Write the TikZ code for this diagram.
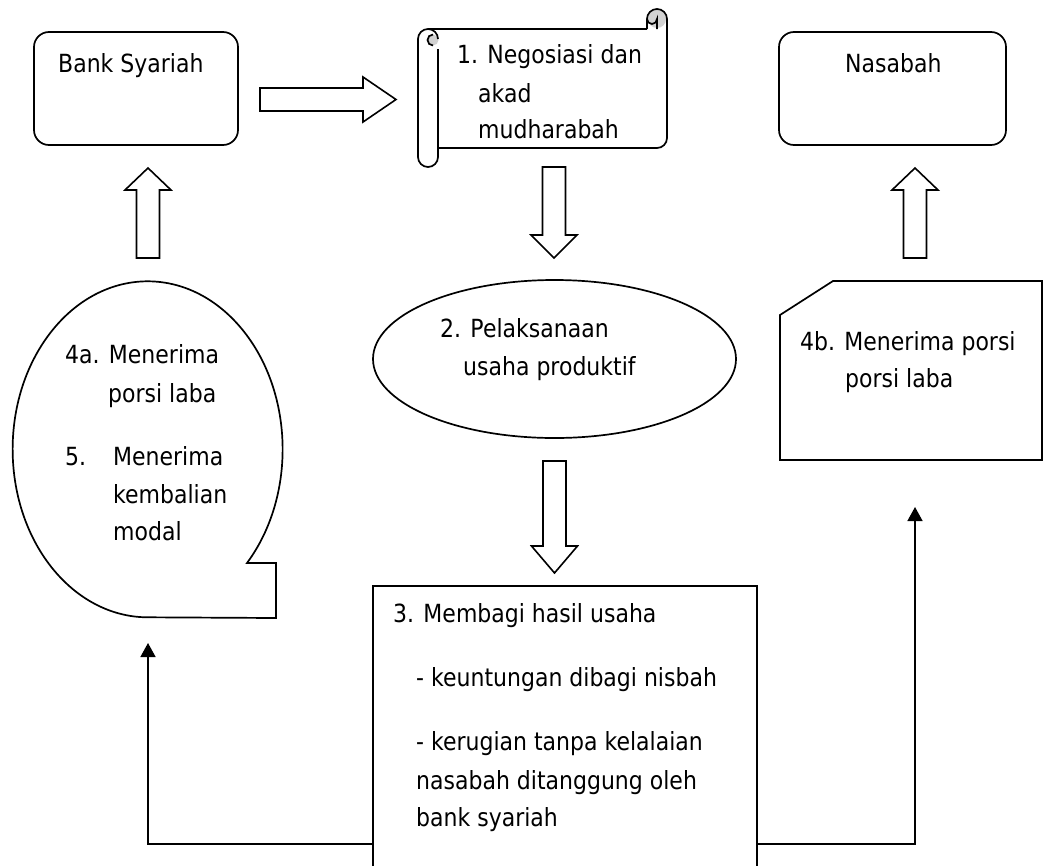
\documentclass[tikz,border=0pt]{standalone}
\usepackage{fontspec}
\setmainfont{DejaVu Sans}[FakeStretch=0.88]
\usetikzlibrary{shapes.geometric, arrows.meta}

\tikzset{
  box/.style={draw, line width=1.7pt, inner sep=0pt},
  outline/.style={line width=1.7pt, line join=miter},
  blockarrow/.style={draw, fill=white, line width=1.6pt, line join=miter},
  conn/.style={line width=1.5pt, -{Triangle[width=15pt,length=14pt]}},
  txt/.style={anchor=base west, inner sep=0pt, font=\fontsize{25pt}{30pt}\selectfont},
}

\begin{document}
\begin{tikzpicture}[x=1pt, y=-1pt]
  \useasboundingbox (0,0) rectangle (1044,865);
  \fill[white] (0,0) rectangle (1044,865);

  % main boxes
  \node[box, rounded corners=15pt, minimum width=204pt, minimum height=113pt] (bank) at (136,88.5) {};
  \node[box, rounded corners=15pt, minimum width=227pt, minimum height=113pt] (nasabah) at (892.5,88.5) {};
  \node[box, ellipse, minimum width=363pt, minimum height=158pt] (usaha) at (554.5,359) {};
  \node[box, anchor=north, minimum width=384pt, minimum height=330pt] (hasil) at (565,585) {};

  % scroll for the akad
  \fill[gray!35] (657,19) circle (9); \fill[gray!35] (433,40) circle (5.5);
  \draw[outline] (647,29) -- (647,19) arc[start angle=180, end angle=0, radius=10pt] -- (667,138)
    arc[start angle=0, end angle=-90, radius=10pt] -- (438,148);
  \draw[outline] (647,19) arc[start angle=180, end angle=360, radius=5pt] -- (657,29);
  \draw[outline] (428,29) -- (647,29);
  \draw[outline] (438,39) arc[start angle=0, end angle=180, radius=10pt] -- (418,157)
    arc[start angle=180, end angle=360, radius=10pt] -- (438,49);
  \draw[outline] (433,34.5) arc[start angle=90, end angle=270, radius=5.5pt];

  % callout and snipped box
  \draw[outline] (247,563) arc[start angle=-42.6, end angle=270, x radius=135pt, y radius=168pt]
    -- (276,618) -- (276,563) -- cycle;
  \draw[outline] (780,315) -- (833,281) -- (1042,281) -- (1042,460) -- (780,460) -- cycle;

  % block arrows
  \draw[blockarrow] (260,88) -- (363,88) -- (363,77) -- (396,99.5) -- (363,122) -- (363,111) -- (260,111) -- cycle;
  \foreach \cx/\ys/\yb/\yt in {148/258/190/168, 915/258/190/168, 554/167/235/258, 554.5/461/546/573}
    \draw[blockarrow] (\cx-11.5,\ys) -- (\cx-11.5,\yb) -- (\cx-23,\yb) -- (\cx,\yt) -- (\cx+23,\yb)
      -- (\cx+11.5,\yb) -- (\cx+11.5,\ys) -- cycle;

  % connectors
  \coordinate (lb) at (148,844); \coordinate (la) at (148,643);
  \coordinate (rb) at (915,844); \coordinate (ra) at (915,507);
  \draw[conn] (hasil.west |- lb) -- (lb) -- (la);
  \draw[conn] (hasil.east |- rb) -- (rb) -- (ra);

  % texts
  \foreach \x/\y/\t [count=\i] in {58/72/Bank Syariah, 845/72/Nasabah,
      457/63/1. Negosiasi dan, 478/102/akad, 478/138/mudharabah,
      440/337/2. Pelaksanaan, 463/375/usaha produktif,
      65/363/4a. Menerima, 108/402/porsi laba, 65/465/5., 113/465/Menerima, 113/503/kembalian, 113/540/modal,
      800/350/4b. Menerima porsi, 845/387/porsi laba,
      393/622/3. Membagi hasil usaha, 416/686/- keuntungan dibagi nisbah, 416/750/- kerugian tanpa kelalaian,
      416/789/nasabah ditanggung oleh, 416/826/bank syariah}
    \node[txt] (l\i) at (\x,\y) {\t};
\end{tikzpicture}
\end{document}
